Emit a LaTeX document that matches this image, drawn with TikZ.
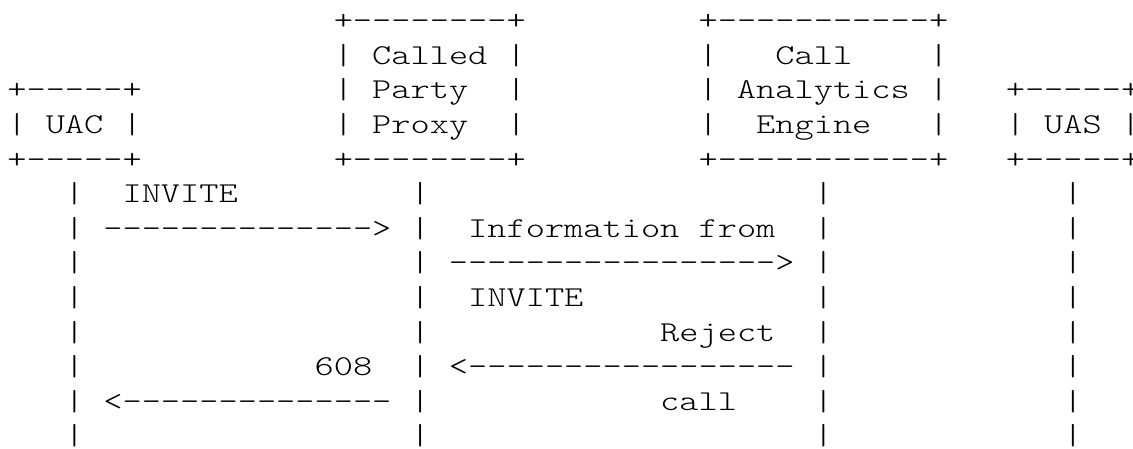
\documentclass[tikz,border=0pt]{standalone}
\usepackage{xcolor}
\usepackage{fontspec}
\usepackage{tikz}
\newfontfamily\asciifont{Latin Modern Mono Light}[Scale=0.9, FakeStretch=1.27]

\begin{document}
\begin{tikzpicture}[x=6pt, y=-10.81pt]
					\useasboundingbox (-0.385, -0.858) rectangle (58.625, 12.093);
					
					\begin{scope}[
						ascii/.style={font=\asciifont, anchor=base west, inner sep=0pt, outer sep=0pt}]
						% boxes
						\node[ascii] (UACtop) at (0, 2) {+-----+};
						\node[ascii] (UACl) at (0, 3) {|};
						\node[ascii] (UAC) at (2, 3) {UAC};
						\node[ascii] (UACr) at (6, 3) {|};
						\node[ascii] (UACbot) at (0, 4) {+-----+};
						
						\node[ascii] (CPPtop) at (17, 0) {+--------+};
						\node[ascii] (CPP1) at (19, 1) {Called};
						\node[ascii] (CPP2) at (19, 2) {Party};
						\node[ascii] (CPP3) at (19, 3) {Proxy};
						\node[ascii] (CPPbot) at (17, 4) {+--------+};
						
						\node[ascii] (CAEtop) at (36, 0) {+-----------+};
						\node[ascii] (CAE1) at (40, 1) {Call};
						\node[ascii] (CAE2) at (38, 2) {Analytics};
						\node[ascii] (CAE3) at (39, 3) {Engine};
						\node[ascii] (CAEbot) at (36, 4) {+-----------+};
						
						\node[ascii] (UAStop) at (52, 2) {+-----+};
						\node[ascii] (UASl) at (52, 3) {|};
						\node[ascii] (UAS) at (54, 3) {UAS};
						\node[ascii] (UASr) at (58, 3) {|};
						\node[ascii] (UASbot) at (52, 4) {+-----+};
						
						\foreach \c in {17, 26, 36, 48}
							\foreach \r in {1, 2, 3}
								\node[ascii] (S\c-\r) at (\c, \r) {|};
						
						% lifelines
						\foreach \c in {3, 21, 42, 55}
							\foreach \r in {5, ..., 12}
								\node[ascii] (L\c-\r) at (\c, \r) {|};
						
						% messages
						\node[ascii] (M1) at (6, 5) {INVITE};
						\node[ascii] (A1) at (5, 6) {-------------->};
						\node[ascii] (M2a) at (24, 6) {Information};
						\node[ascii] (M2b) at (36, 6) {from};
						\node[ascii] (A2) at (23, 7) {----------------->};
						\node[ascii] (M2c) at (24, 8) {INVITE};
						\node[ascii] (M3a) at (34, 9) {Reject};
						\node[ascii] (M4) at (16, 10) {608};
						\node[ascii] (A3) at (23, 10) {<-----------------};
						\node[ascii] (A4) at (5, 11) {<--------------};
						\node[ascii] (M3b) at (34, 11) {call};
					\end{scope}
				\end{tikzpicture}
\end{document}
